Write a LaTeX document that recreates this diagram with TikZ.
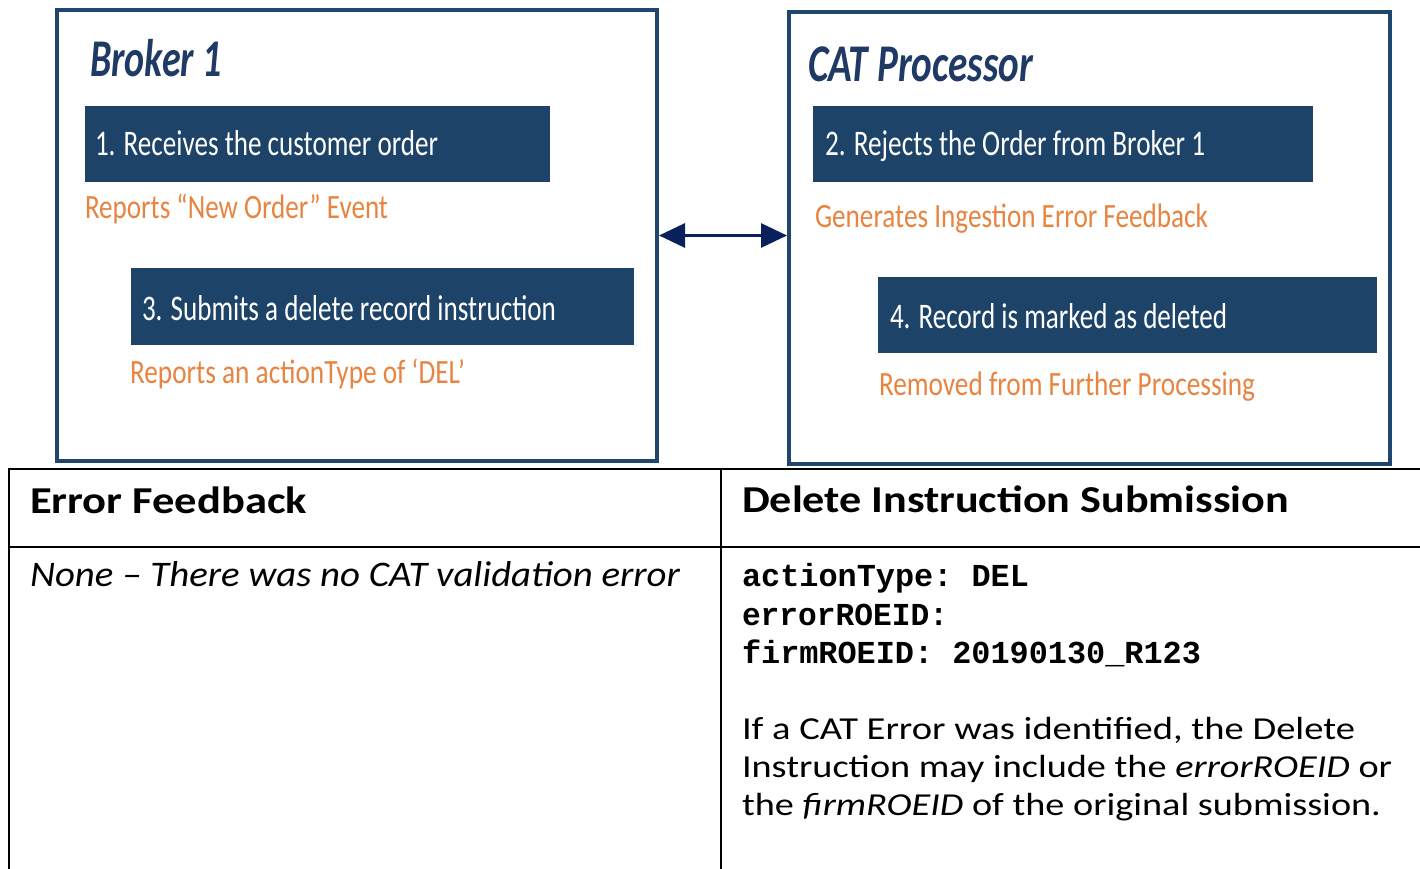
\documentclass[tikz,border=0pt]{standalone}
\usepackage{fontspec}
\usepackage{graphicx}
\setmainfont{Carlito}
\setmonofont{Liberation Mono}
\usetikzlibrary{arrows.meta}
\definecolor{navy}{RGB}{29,67,105}
\definecolor{frame}{RGB}{33,70,110}
\definecolor{ttl}{RGB}{31,58,100}
\definecolor{orng}{RGB}{232,132,64}
\definecolor{arw}{RGB}{10,32,92}
\newcommand\fitw[3]{\resizebox{#1pt}{\height}{\fontsize{#2}{#2}\selectfont #3}}
\begin{document}
\begin{tikzpicture}[x=1pt,y=-1pt,
  txt/.style={inner sep=0pt, outer sep=0pt, anchor=base west},
  outerbox/.style={draw=frame, line width=4pt, fill=white, anchor=north west, inner sep=0pt},
  stepbox/.style={fill=navy, anchor=north west, inner sep=0pt},
  tbl/.style={line width=2.6pt, black}]
\useasboundingbox (0,0) rectangle (1420,869);
\fill[white] (0,0) rectangle (1420,869);
% outer boxes
\node[outerbox, minimum width=600pt, minimum height=451pt] (broker) at (55,8) {};
\node[outerbox, minimum width=601pt, minimum height=452pt] (cat) at (787,10) {};
% titles
\node[txt, text=ttl] (tb) at (90,77) {\fitw{132}{53}{\bfseries\itshape Broker 1}};
\node[txt, text=ttl] (tc) at (808,82) {\fitw{225}{53}{\bfseries\itshape CAT Processor}};
% step boxes
\node[stepbox, minimum width=465pt, minimum height=76pt] (b1) at (85,106) {};
\node[stepbox, minimum width=503pt, minimum height=77pt] (b3) at (131,268) {};
\node[stepbox, minimum width=500pt, minimum height=76pt] (b2) at (813,106) {};
\node[stepbox, minimum width=499pt, minimum height=76pt] (b4) at (878,277) {};
\node[txt, text=white] (t1) at (95,156) {\fitw{343}{36}{1. Receives the customer order}};
\node[txt, text=white] (t3) at (142,320) {\fitw{414}{36}{3. Submits a delete record instruction}};
\node[txt, text=white] (t2) at (825,156) {\fitw{380}{36}{2. Rejects the Order from Broker 1}};
\node[txt, text=white] (t4) at (890,328) {\fitw{337}{36}{4. Record is marked as deleted}};
% orange notes
\node[txt, text=orng] (o1) at (85,218) {\fitw{303}{34}{Reports “New Order” Event}};
\node[txt, text=orng] (o3) at (130,383) {\fitw{335}{34}{Reports an actionType of ‘DEL’}};
\node[txt, text=orng] (o2) at (815,227) {\fitw{393}{34}{Generates Ingestion Error Feedback}};
\node[txt, text=orng] (o4) at (879,395) {\fitw{376}{34}{Removed from Further Processing}};
% arrow
\draw[arw, line width=3pt, {Triangle[length=26pt,width=24pt]}-{Triangle[length=26pt,width=24pt]}]
  (broker.east) -- (broker.east -| cat.west);
% table
\draw[tbl] (9,469) -- (1420,469);
\draw[tbl] (9,547) -- (1420,547);
\draw[tbl] (9,467.7) -- (9,869);
\draw[tbl] (721,469) -- (721,869);
\node[txt] (h1) at (30,513) {\fitw{277}{38}{\bfseries Error Feedback}};
\node[txt] (h2) at (742,512) {\fitw{547}{38}{\bfseries Delete Instruction Submission}};
\node[txt] (n1) at (30,586) {\fitw{650}{36}{\itshape None – There was no CAT validation error}};
\node[txt] (m1) at (742,586) {\fitw{287}{32}{\ttfamily\bfseries actionType: DEL}};
\node[txt] (m2) at (742,625) {\fitw{206}{32}{\ttfamily\bfseries errorROEID:}};
\node[txt] (m3) at (742,663) {\fitw{459}{32}{\ttfamily\bfseries firmROEID: 20190130\_R123}};
\node[txt] (p1) at (742,739) {\fitw{613}{32}{If a CAT Error was identified, the Delete}};
\node[txt] (p2) at (742,777) {\fitw{650}{32}{Instruction may include the \textit{errorROEID} or}};
\node[txt] (p3) at (742,815) {\fitw{639}{32}{the \textit{firmROEID} of the original submission.}};
\end{tikzpicture}
\end{document}
